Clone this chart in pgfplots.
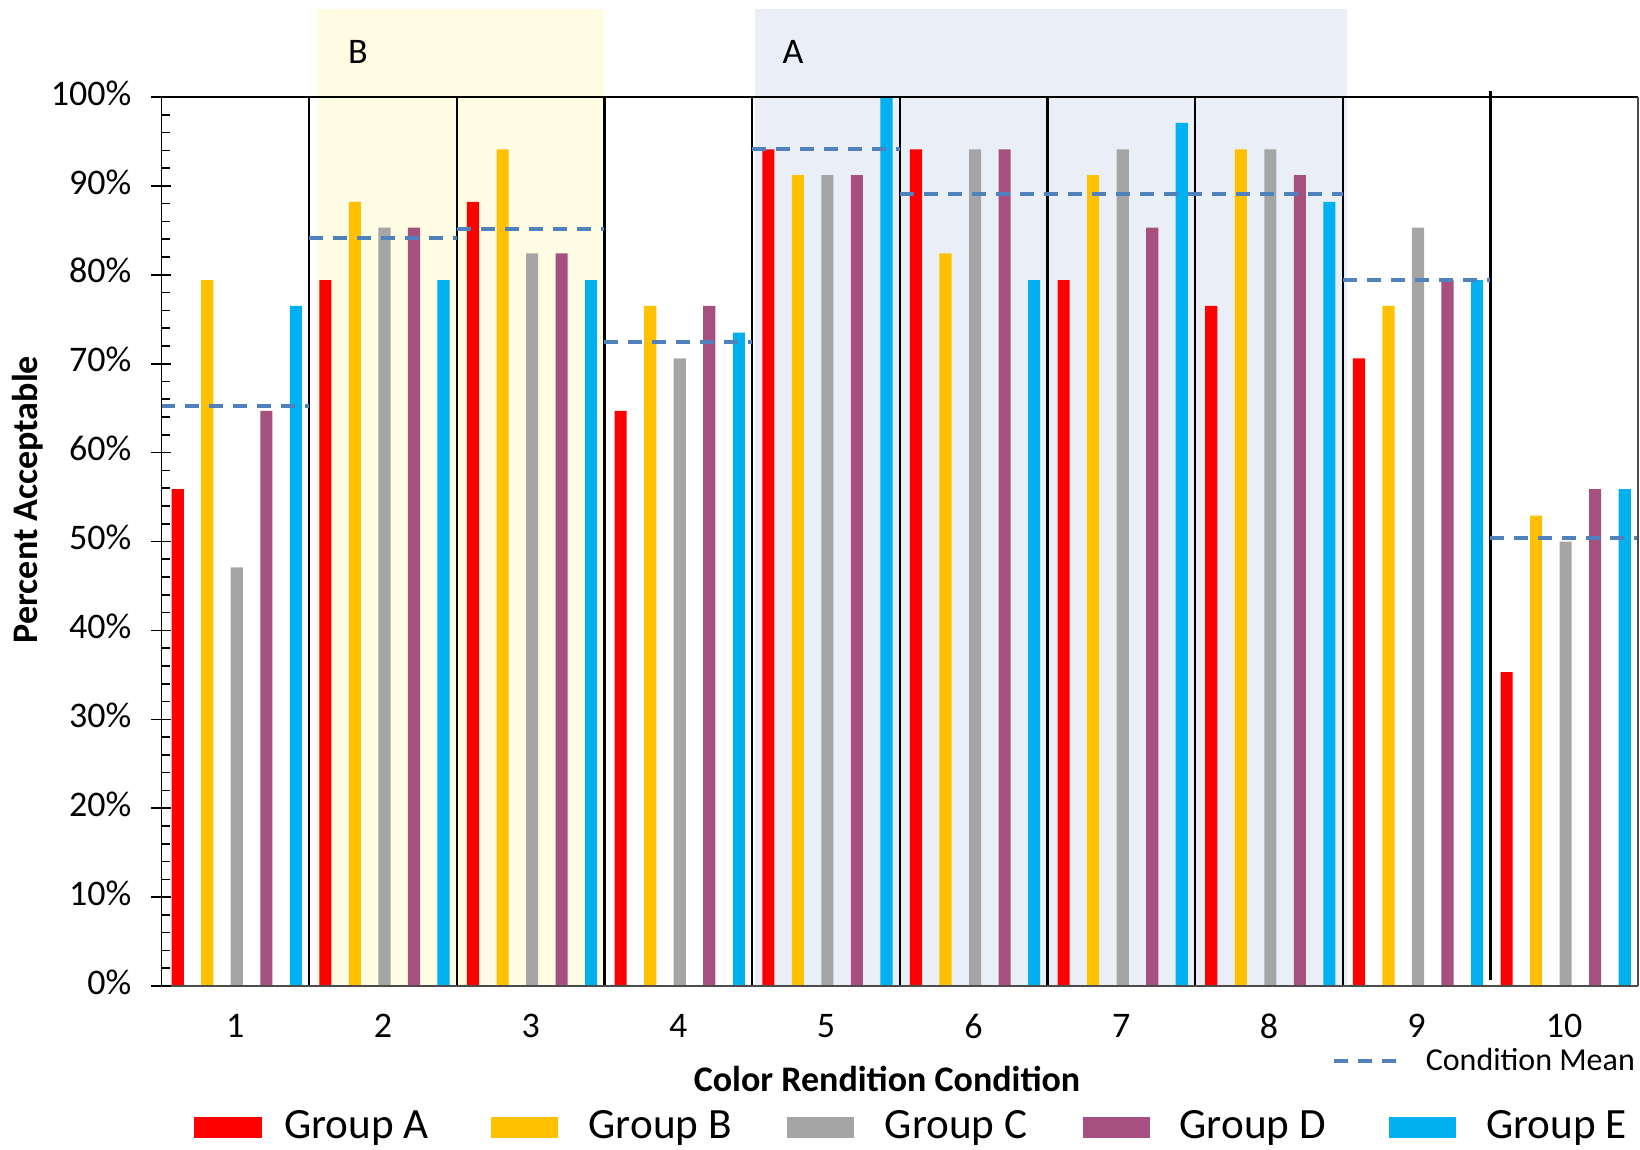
\documentclass[border=0pt]{standalone}
\usepackage{pgfplots}
\pgfplotsset{compat=1.18}
\usepackage{pgfplotstable}
\usepackage{fontspec}
\setmainfont{Carlito}
\definecolor{cA}{HTML}{FF0000}
\definecolor{cB}{HTML}{FFC000}
\definecolor{cC}{HTML}{A5A5A5}
\definecolor{cD}{HTML}{A5507E}
\definecolor{cE}{HTML}{00B0F0}
\definecolor{meanc}{HTML}{4F81BD}
\definecolor{shY}{HTML}{FEFDE3}
\definecolor{shA}{HTML}{EAEFF7}
\pgfplotstableread{
x A B C D E
1 55.9 79.4 47.1 64.7 76.5
2 79.4 88.2 85.3 85.3 79.4
3 88.2 94.1 82.4 82.4 79.4
4 64.7 76.5 70.6 76.5 73.5
5 94.1 91.2 91.2 91.2 100
6 94.1 82.4 94.1 94.1 79.4
7 79.4 91.2 94.1 85.3 97.1
8 76.5 94.1 94.1 91.2 88.2
9 70.6 76.5 85.3 79.4 79.4
10 35.3 52.9 50.0 55.9 55.9
}\data
\begin{document}
\begin{tikzpicture}
\useasboundingbox (0,0) rectangle (410pt,287.25pt);
\begin{axis}[at={(40.375pt,40.75pt)}, anchor=south west, scale only axis,
  width=369.125pt, height=222.25pt,
  xmin=0.5, xmax=10.5, ymin=0, ymax=100, clip=false, axis on top,
  axis line style={draw=none},
  xtick={1,...,10}, xtick style={draw=none},
  ytick={0,10,...,100}, minor y tick num=4,
  ytick pos=left, xtick pos=left,
  tick align=inside, major tick length=4.75pt, minor tick length=2.2pt,
  every major tick/.append style={xshift=-2.5pt, black, line width=0.4pt},
  every minor tick/.append style={black, line width=0.4pt},
  yticklabel={\pgfmathprintnumber{\tick}\%},
  /pgf/number format/assume math mode=true,
  ticklabel style={font=\fontsize{9}{10}\selectfont, text=black},
  yticklabel style={xshift=-4pt, yshift=1pt},
  xticklabel style={yshift=-3.5pt},
]
\fill[shY] (axis cs:1.55,0) rectangle (axis cs:3.5,109.9);
\fill[shA] (axis cs:4.52,0) rectangle (axis cs:8.53,109.9);
\addplot[ybar, bar width=0.082, bar shift=-0.39, fill=cA, draw=none] table[x=x,y=A]{\data};
\addplot[ybar, bar width=0.082, bar shift=-0.19, fill=cB, draw=none] table[x=x,y=B]{\data};
\addplot[ybar, bar width=0.082, bar shift=0.01, fill=cC, draw=none] table[x=x,y=C]{\data};
\addplot[ybar, bar width=0.082, bar shift=0.21, fill=cD, draw=none] table[x=x,y=D]{\data};
\addplot[ybar, bar width=0.082, bar shift=0.41, fill=cE, draw=none] table[x=x,y=E]{\data};
\pgfplotsinvokeforeach{1.5,2.5,3.5,4.5,5.5,6.5,7.5,8.5}{
  \draw[black, line width=0.6pt] (axis cs:#1,0) -- (axis cs:#1,100);
}
\draw[black, line width=0.6pt] (axis cs:9.5,0.7) -- (axis cs:9.5,100.7);
\addplot[meanc, line width=1pt, dash pattern=on 3.5pt off 2.5pt] coordinates {(0.5,65.2)(1.5,65.2)};
\addplot[meanc, line width=1pt, dash pattern=on 3.5pt off 2.5pt] coordinates {(1.5,84.1)(2.5,84.1)};
\addplot[meanc, line width=1pt, dash pattern=on 3.5pt off 2.5pt] coordinates {(2.5,85.2)(3.5,85.2)};
\addplot[meanc, line width=1pt, dash pattern=on 3.5pt off 2.5pt] coordinates {(3.5,72.4)(4.5,72.4)};
\addplot[meanc, line width=1pt, dash pattern=on 3.5pt off 2.5pt] coordinates {(4.5,94.2)(5.5,94.2)};
\addplot[meanc, line width=1pt, dash pattern=on 3.5pt off 2.5pt] coordinates {(5.5,89.1)(8.5,89.1)};
\addplot[meanc, line width=1pt, dash pattern=on 3.5pt off 2.5pt] coordinates {(8.5,79.4)(9.5,79.4)};
\addplot[meanc, line width=1pt, dash pattern=on 3.5pt off 2.5pt] coordinates {(9.5,50.4)(10.5,50.4)};
\draw[black, line width=0.4pt] (axis cs:0.5,100) -- (axis cs:10.5,100);
\draw[black!70, line width=0.3pt] (axis cs:10.5,0) -- (axis cs:10.5,100);
\draw[black, line width=0.4pt] (axis cs:0.5,0) -- (axis cs:0.5,100);
\draw[black!70, line width=0.6pt] (axis cs:0.5,0) -- (axis cs:10.5,0);
\end{axis}
\begin{scope}[x=0.25pt, y=-0.25pt, yshift=287.25pt]
\node[font=\fontsize{9}{10}\selectfont] at (358,52) {B};
\node[font=\fontsize{9}{10}\selectfont] at (793,52) {A};
\node[rotate=90, font=\bfseries\fontsize{9}{10}\selectfont] at (28,499.5) {Percent Acceptable};
\node[font=\bfseries\fontsize{9}{10}\selectfont] at (887,1079) {Color Rendition Condition};
\draw[meanc, line width=1pt, dash pattern=on 3.5pt off 2.5pt] (1334,1061) -- (1396,1061);
\node[anchor=west, inner sep=0pt, font=\fontsize{8}{9}\selectfont] at (1425,1059) {Condition Mean};
\fill[cA] (193.5,1117) rectangle (261.5,1138);
\fill[cB] (490.6,1117) rectangle (557.5,1138);
\fill[cC] (786.6,1117) rectangle (853.6,1138);
\fill[cD] (1082.6,1117) rectangle (1149.6,1138);
\fill[cE] (1389,1117) rectangle (1456,1138);
\node[anchor=west, inner sep=0pt, font=\fontsize{10.8}{12}\selectfont] at (283.5,1127.6) {Group A};
\node[anchor=west, inner sep=0pt, font=\fontsize{10.8}{12}\selectfont] at (587.9,1127.6) {Group B};
\node[anchor=west, inner sep=0pt, font=\fontsize{10.8}{12}\selectfont] at (884,1127.6) {Group C};
\node[anchor=west, inner sep=0pt, font=\fontsize{10.8}{12}\selectfont] at (1178.9,1127.6) {Group D};
\node[anchor=west, inner sep=0pt, font=\fontsize{10.8}{12}\selectfont] at (1485.4,1127.6) {Group E};
\end{scope}
\end{tikzpicture}
\end{document}
